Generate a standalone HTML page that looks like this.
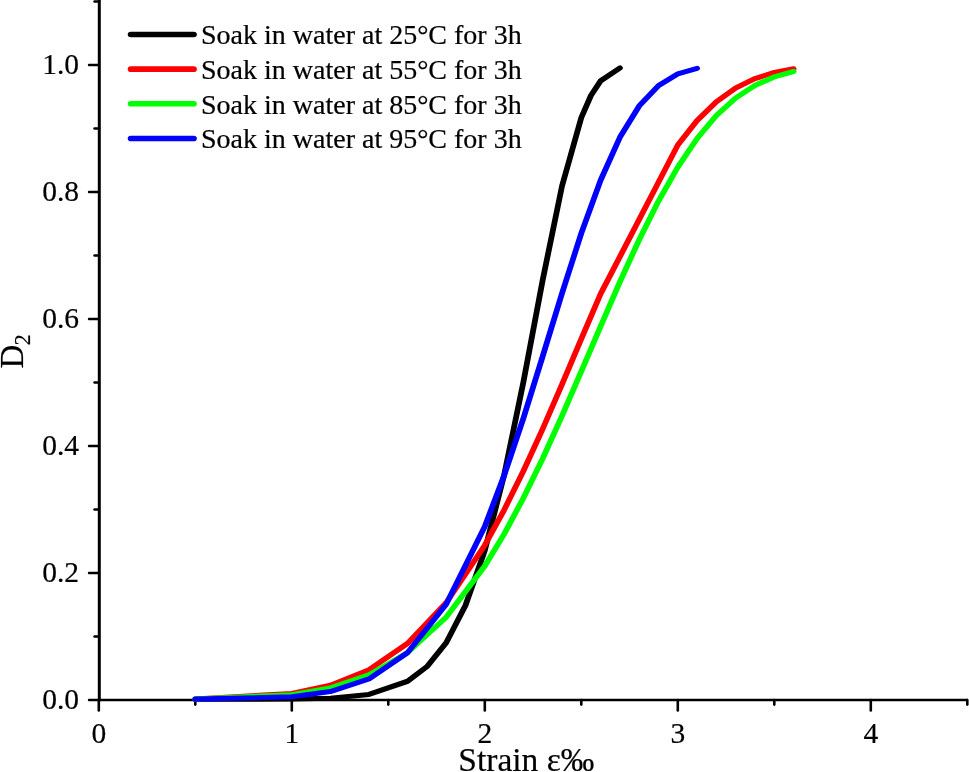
<!DOCTYPE html>
<html><head><meta charset="utf-8"><title>D2 vs strain</title><style>
html,body{margin:0;padding:0;background:#fff;overflow:hidden;}
svg{display:block;will-change:transform;}
text{font-family:"Liberation Serif",serif;fill:#000;stroke:#000;stroke-width:0.2px;}
</style></head><body>
<svg width="969" height="772" viewBox="0 0 969 772">
<rect width="969" height="772" fill="#fff"/>
<g stroke="#000" stroke-width="2.4" stroke-linecap="round" fill="none">
<line x1="89" y1="700.00" x2="99" y2="700.00"/>
<line x1="89" y1="573.00" x2="99" y2="573.00"/>
<line x1="89" y1="446.00" x2="99" y2="446.00"/>
<line x1="89" y1="319.00" x2="99" y2="319.00"/>
<line x1="89" y1="192.00" x2="99" y2="192.00"/>
<line x1="89" y1="65.00" x2="99" y2="65.00"/>
<line x1="94.5" y1="636.50" x2="99" y2="636.50"/>
<line x1="94.5" y1="509.50" x2="99" y2="509.50"/>
<line x1="94.5" y1="382.50" x2="99" y2="382.50"/>
<line x1="94.5" y1="255.50" x2="99" y2="255.50"/>
<line x1="94.5" y1="128.50" x2="99" y2="128.50"/>
<line x1="94.5" y1="1.50" x2="99" y2="1.50"/>
</g>
<g stroke="#000" stroke-width="2.6" stroke-linecap="round" fill="none">
<line x1="98.80" y1="700" x2="98.80" y2="710.5"/>
<line x1="291.80" y1="700" x2="291.80" y2="710.5"/>
<line x1="484.80" y1="700" x2="484.80" y2="710.5"/>
<line x1="677.80" y1="700" x2="677.80" y2="710.5"/>
<line x1="870.80" y1="700" x2="870.80" y2="710.5"/>
<line x1="195.30" y1="700" x2="195.30" y2="704.6"/>
<line x1="388.30" y1="700" x2="388.30" y2="704.6"/>
<line x1="581.30" y1="700" x2="581.30" y2="704.6"/>
<line x1="774.30" y1="700" x2="774.30" y2="704.6"/>
<line x1="967.30" y1="700" x2="967.30" y2="704.6"/>
</g>
<line x1="99.3" y1="0" x2="99.3" y2="701.2" stroke="#000" stroke-width="3"/>
<line x1="98" y1="700.1" x2="968" y2="700.1" stroke="#000" stroke-width="2.5"/>
<g transform="scale(1.13,1)" fill="none" stroke-width="5.1" stroke-linecap="round" stroke-linejoin="round">
<path d="M172.832,699.20 L258.230,699.03 L292.389,698.18 L326.549,694.43 L360.708,681.25 L377.788,666.68 L394.867,642.74 L411.947,605.38 L429.027,550.40 L446.106,475.27 L463.186,381.98 L480.265,280.00 L497.345,186.12 L514.425,117.57 L522.965,95.47 L531.504,80.90 L548.584,67.93" stroke="#000000"/>
<path d="M172.832,699.02 L258.230,693.52 L292.389,685.28 L326.549,669.73 L360.708,643.36 L394.867,602.68 L429.027,545.21 L446.106,510.08 L463.186,471.08 L480.265,428.88 L497.345,384.43 L514.425,338.96 L531.504,293.86 L599.823,145.05 L616.903,120.58 L633.982,101.73 L651.062,87.99 L668.142,78.55 L685.221,72.49 L702.301,68.85" stroke="#ff0000"/>
<path d="M172.832,699.06 L258.230,694.70 L292.389,687.97 L326.549,674.99 L360.708,652.56 L394.867,617.20 L429.027,566.02 L446.106,534.08 L463.186,498.08 L480.265,458.43 L497.345,415.88 L514.425,371.41 L531.504,326.28 L548.584,281.89 L565.664,239.70 L582.743,201.06 L599.823,167.07 L616.903,138.46 L633.982,115.49 L651.062,98.00 L668.142,85.40 L685.221,76.87 L702.301,71.46" stroke="#00ff00"/>
<path d="M172.832,699.17 L258.230,696.82 L292.389,691.57 L326.549,678.95 L360.708,652.63 L394.867,604.32 L429.027,526.41 L446.106,475.64 L463.186,418.18 L480.265,356.30 L497.345,293.32 L514.425,233.30 L531.504,180.26 L548.584,137.34 L565.664,105.95 L582.743,85.54 L599.823,73.95 L616.903,68.31" stroke="#0000ff"/>
<line x1="115.841" y1="34.50" x2="171.416" y2="34.50" stroke="#000000" stroke-width="5.6"/>
<line x1="115.841" y1="69.15" x2="171.416" y2="69.15" stroke="#ff0000" stroke-width="5.6"/>
<line x1="115.841" y1="103.80" x2="171.416" y2="103.80" stroke="#00ff00" stroke-width="5.6"/>
<line x1="115.841" y1="138.45" x2="171.416" y2="138.45" stroke="#0000ff" stroke-width="5.6"/>
</g>
<g font-size="29.5">
<text x="79" y="709.30" text-anchor="end">0.0</text>
<text x="79" y="582.30" text-anchor="end">0.2</text>
<text x="79" y="455.30" text-anchor="end">0.4</text>
<text x="79" y="328.30" text-anchor="end">0.6</text>
<text x="79" y="201.30" text-anchor="end">0.8</text>
<text x="79" y="74.30" text-anchor="end">1.0</text>
<text x="98.80" y="743" text-anchor="middle">0</text>
<text x="291.80" y="743" text-anchor="middle">1</text>
<text x="484.80" y="743" text-anchor="middle">2</text>
<text x="677.80" y="743" text-anchor="middle">3</text>
<text x="870.80" y="743" text-anchor="middle">4</text>
</g>
<g font-size="28">
<text x="201" y="44.40">Soak in water at 25°C for 3h</text>
<text x="201" y="79.05">Soak in water at 55°C for 3h</text>
<text x="201" y="113.70">Soak in water at 85°C for 3h</text>
<text x="201" y="148.35">Soak in water at 95°C for 3h</text>
</g>
<text x="458.3" y="771" font-size="33.5">Strain ε‰</text>
<text transform="translate(22.5,368.5) rotate(-90)" font-size="33">D<tspan font-size="22.5" dx="-0.8" dy="7.8">2</tspan></text>
</svg>
</body></html>
